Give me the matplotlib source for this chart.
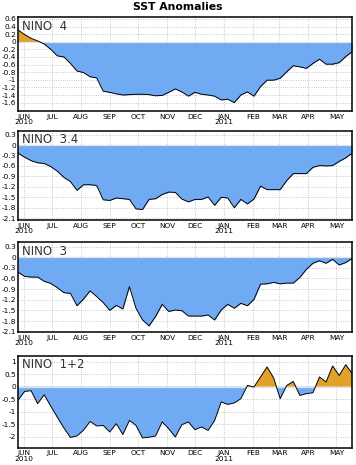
import matplotlib
matplotlib.use('Agg')
import matplotlib.pyplot as plt
import numpy as np
import pandas as pd

plt.rcParams['axes.unicode_minus'] = False
plt.rcParams['font.family'] = ['DejaVu Sans']

weeks = pd.date_range('2010-05-26', periods=52, freq='7D')
month_ticks = pd.date_range('2010-06-01', '2011-05-01', freq='MS')
month_labels = ['JUN\n2010', 'JUL', 'AUG', 'SEP', 'OCT', 'NOV', 'DEC',
                'JAN\n2011', 'FEB', 'MAR', 'APR', 'MAY']

nino4 = [0.31, 0.19, 0.09, 0.02, -0.06, -0.20, -0.37, -0.40, -0.57, -0.77,
         -0.81, -0.92, -0.95, -1.30, -1.33, -1.37, -1.40, -1.39, -1.38, -1.38,
         -1.39, -1.42, -1.41, -1.33, -1.24, -1.32, -1.43, -1.33, -1.38, -1.40,
         -1.43, -1.53, -1.51, -1.60, -1.40, -1.32, -1.43, -1.18, -1.01, -1.01,
         -0.96, -0.79, -0.63, -0.66, -0.70, -0.57, -0.46, -0.59, -0.59, -0.55,
         -0.39, -0.26]
nino34 = [-0.23, -0.35, -0.45, -0.51, -0.53, -0.62, -0.75, -0.93, -1.05, -1.30,
          -1.14, -1.14, -1.16, -1.57, -1.59, -1.52, -1.54, -1.56, -1.83, -1.85,
          -1.56, -1.54, -1.42, -1.35, -1.36, -1.55, -1.63, -1.56, -1.56, -1.49,
          -1.73, -1.50, -1.52, -1.80, -1.56, -1.69, -1.55, -1.18, -1.28, -1.28,
          -1.28, -1.02, -0.82, -0.82, -0.82, -0.64, -0.59, -0.60, -0.59, -0.47,
          -0.37, -0.23]
nino3 = [-0.42, -0.54, -0.56, -0.56, -0.68, -0.74, -0.86, -1.00, -1.02, -1.37,
         -1.18, -0.95, -1.11, -1.28, -1.50, -1.36, -1.46, -0.83, -1.44, -1.77,
         -1.94, -1.67, -1.33, -1.53, -1.49, -1.51, -1.66, -1.66, -1.66, -1.63,
         -1.77, -1.49, -1.33, -1.44, -1.30, -1.37, -1.19, -0.76, -0.75, -0.71,
         -0.75, -0.73, -0.73, -0.57, -0.34, -0.17, -0.10, -0.17, -0.06, -0.22,
         -0.15, -0.03]
nino12 = [-0.55, -0.19, -0.16, -0.68, -0.32, -0.78, -1.22, -1.65, -2.03, -1.97,
          -1.74, -1.39, -1.57, -1.55, -1.81, -1.48, -1.91, -1.35, -1.55, -2.05,
          -2.02, -1.97, -1.41, -1.68, -2.01, -1.52, -1.41, -1.72, -1.61, -1.75,
          -1.35, -0.61, -0.71, -0.65, -0.48, 0.05, -0.01, 0.39, 0.79, 0.35,
          -0.48, 0.05, 0.21, -0.35, -0.28, -0.24, 0.39, 0.19, 0.83, 0.45,
          0.88, 0.52]

names = ['NINO  4', 'NINO  3.4', 'NINO  3', 'NINO  1+2']
series = [nino4, nino34, nino3, nino12]
yticks = [np.arange(-1.6, 0.61, 0.2), np.arange(-2.1, 0.31, 0.3),
          np.arange(-2.1, 0.31, 0.3), np.arange(-2.0, 1.01, 0.5)]
ylims = [(-1.82, 0.65), (-2.15, 0.41), (-2.11, 0.43), (-2.44, 1.24)]

W, H = 356, 465
# (top_px, bottom_px)
rows = [(17, 111), (130.7, 220), (242, 332), (355.7, 447.7)]
left_px, right_px = 18, 352.3

BLUE = '#70aaf2'
ORANGE = '#e2a128'

fig = plt.figure(figsize=(W / 100, H / 100), dpi=100)
fig.text(0.5, 1 - 7.5 / H, 'SST Anomalies', ha='center', va='center',
         fontsize=7.8, fontweight='bold')


def fmt(v):
    v = round(float(v), 1)
    if abs(v) < 1e-9:
        return '0'
    return f'{v:g}'


for name, vals, yt, yl, (tp, bp) in zip(names, series, yticks, ylims, rows):
    ax = fig.add_axes([left_px / W, 1 - bp / H, (right_px - left_px) / W,
                       (bp - tp) / H])
    v = np.array(vals)
    ax.fill_between(weeks, v, 0, where=v <= 0, interpolate=True,
                    color=BLUE, lw=0, zorder=2)
    ax.fill_between(weeks, v, 0, where=v >= 0, interpolate=True,
                    color=ORANGE, lw=0, zorder=2)
    ax.axhline(0, color='#dfe3e8', lw=0.9, zorder=3)
    ax.plot(weeks, v, color='black', lw=0.7, zorder=4)
    ax.set_xlim(weeks[0], weeks[-1])
    ax.set_ylim(*yl)
    ax.set_yticks(yt)
    ax.set_yticklabels([fmt(t) for t in yt])
    ax.set_xticks(month_ticks)
    ax.set_xticklabels(month_labels)
    ax.tick_params(axis='both', labelsize=5.3, length=0, pad=1.5,
                   colors='black')
    ax.tick_params(axis='x', pad=2)
    for lab in ax.get_xticklabels():
        lab.set_linespacing(0.85)
    ax.grid(True, color='#9a9a9a', lw=0.5, linestyle=(0, (1, 2.2)), zorder=1)
    for s in ax.spines.values():
        s.set_linewidth(1.1)
        s.set_zorder(5)
    ax.text(0.012, 0.90, name, transform=ax.transAxes, fontsize=8.5,
            ha='left', va='center', color='#333333', zorder=6)

fig.savefig('out.png', dpi=100)
